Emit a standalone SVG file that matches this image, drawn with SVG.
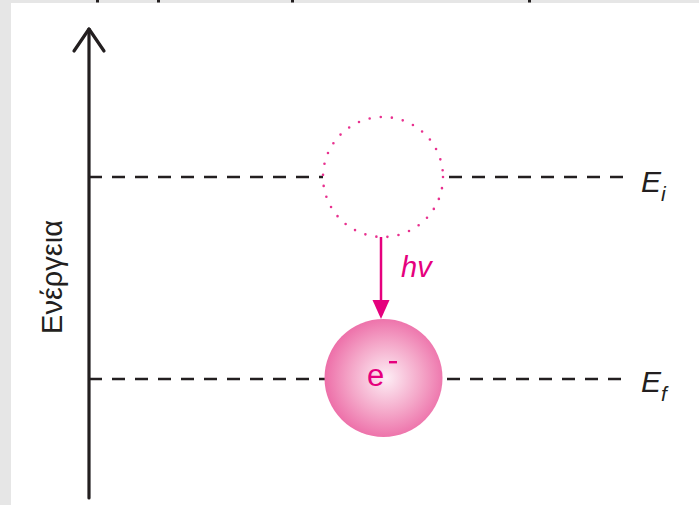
<svg xmlns="http://www.w3.org/2000/svg" width="699" height="505" viewBox="0 0 699 505">
  <style>
    .axis { stroke: #231f20; stroke-width: 3.2; fill: none; stroke-linecap: round; stroke-linejoin: round; }
    .level { stroke: #231f20; stroke-width: 2.4; stroke-dasharray: 13 10; fill: none; }
    .lbl { font-family: "Liberation Sans", Arial, sans-serif; fill: #231f20; }
    .mag { fill: #e5007d; }
  </style>
  <defs>
    <radialGradient id="ballFill" cx="0.52" cy="0.5" r="0.55">
      <stop offset="0" stop-color="#fdeef5"/>
      <stop offset="0.55" stop-color="#f4a6c8"/>
      <stop offset="1" stop-color="#ec67a4"/>
    </radialGradient>
  </defs>

  <!-- page background with grey margins -->
  <rect x="0" y="0" width="699" height="505" fill="#ffffff"/>
  <rect x="0" y="0" width="11" height="505" fill="#e6e6e6"/>
  <rect x="0" y="0" width="699" height="3" fill="#e6e6e6"/>
  <g fill="#231f20">
    <rect x="96" y="0" width="3" height="2.5"/>
    <rect x="157" y="0" width="3" height="2.5"/>
    <rect x="291" y="0" width="3" height="2.5"/>
    <rect x="528" y="0" width="3" height="2.5"/>
  </g>

  <!-- energy axis -->
  <g id="axis">
    <line class="axis" x1="89" y1="498" x2="89" y2="29"/>
    <polyline class="axis" points="74,51 89,29 104,51"/>
    <text class="lbl" transform="translate(62,277) rotate(-90)" text-anchor="middle" font-size="29">Ενέργεια</text>
  </g>

  <!-- connectors: energy levels and emission arrow -->
  <g id="connectors">
    <line class="level" x1="89" y1="177" x2="323" y2="177"/>
    <line class="level" x1="449" y1="177" x2="626" y2="177"/>
    <line class="level" x1="89" y1="379" x2="325" y2="379"/>
    <line class="level" x1="447" y1="379" x2="626" y2="379"/>
    <line x1="381" y1="237" x2="381" y2="302" stroke="#e5007d" stroke-width="2.5"/>
    <path d="M372.5,300 L389.5,300 L381,319 Z" class="mag"/>
  </g>

  <g id="level-initial">
    <text class="lbl" x="641" y="192" font-size="30" font-style="italic">E<tspan font-size="21" dy="9">i</tspan></text>
  </g>
  <g id="level-final">
    <text class="lbl" x="641" y="392" font-size="30" font-style="italic">E<tspan font-size="21" dy="9">f</tspan></text>
  </g>

  <!-- initial (empty) electron position -->
  <g id="electron-initial">
    <circle cx="383" cy="177" r="60" fill="none" stroke="#e8318f" stroke-width="2.6" stroke-linecap="round" stroke-dasharray="0 11.2"/>
  </g>

  <!-- photon label -->
  <g id="photon">
    <text x="401" y="277" font-family="Liberation Sans, Arial, sans-serif" font-size="29" font-style="italic" class="mag">hv</text>
  </g>

  <!-- final electron -->
  <g id="electron-final">
    <circle cx="383.5" cy="378" r="59" fill="url(#ballFill)"/>
    <text x="367" y="386" font-family="Liberation Sans, Arial, sans-serif" font-size="31" class="mag">e</text>
    <rect x="389" y="361" width="8" height="2.4" fill="#e5007d"/>
  </g>
</svg>
